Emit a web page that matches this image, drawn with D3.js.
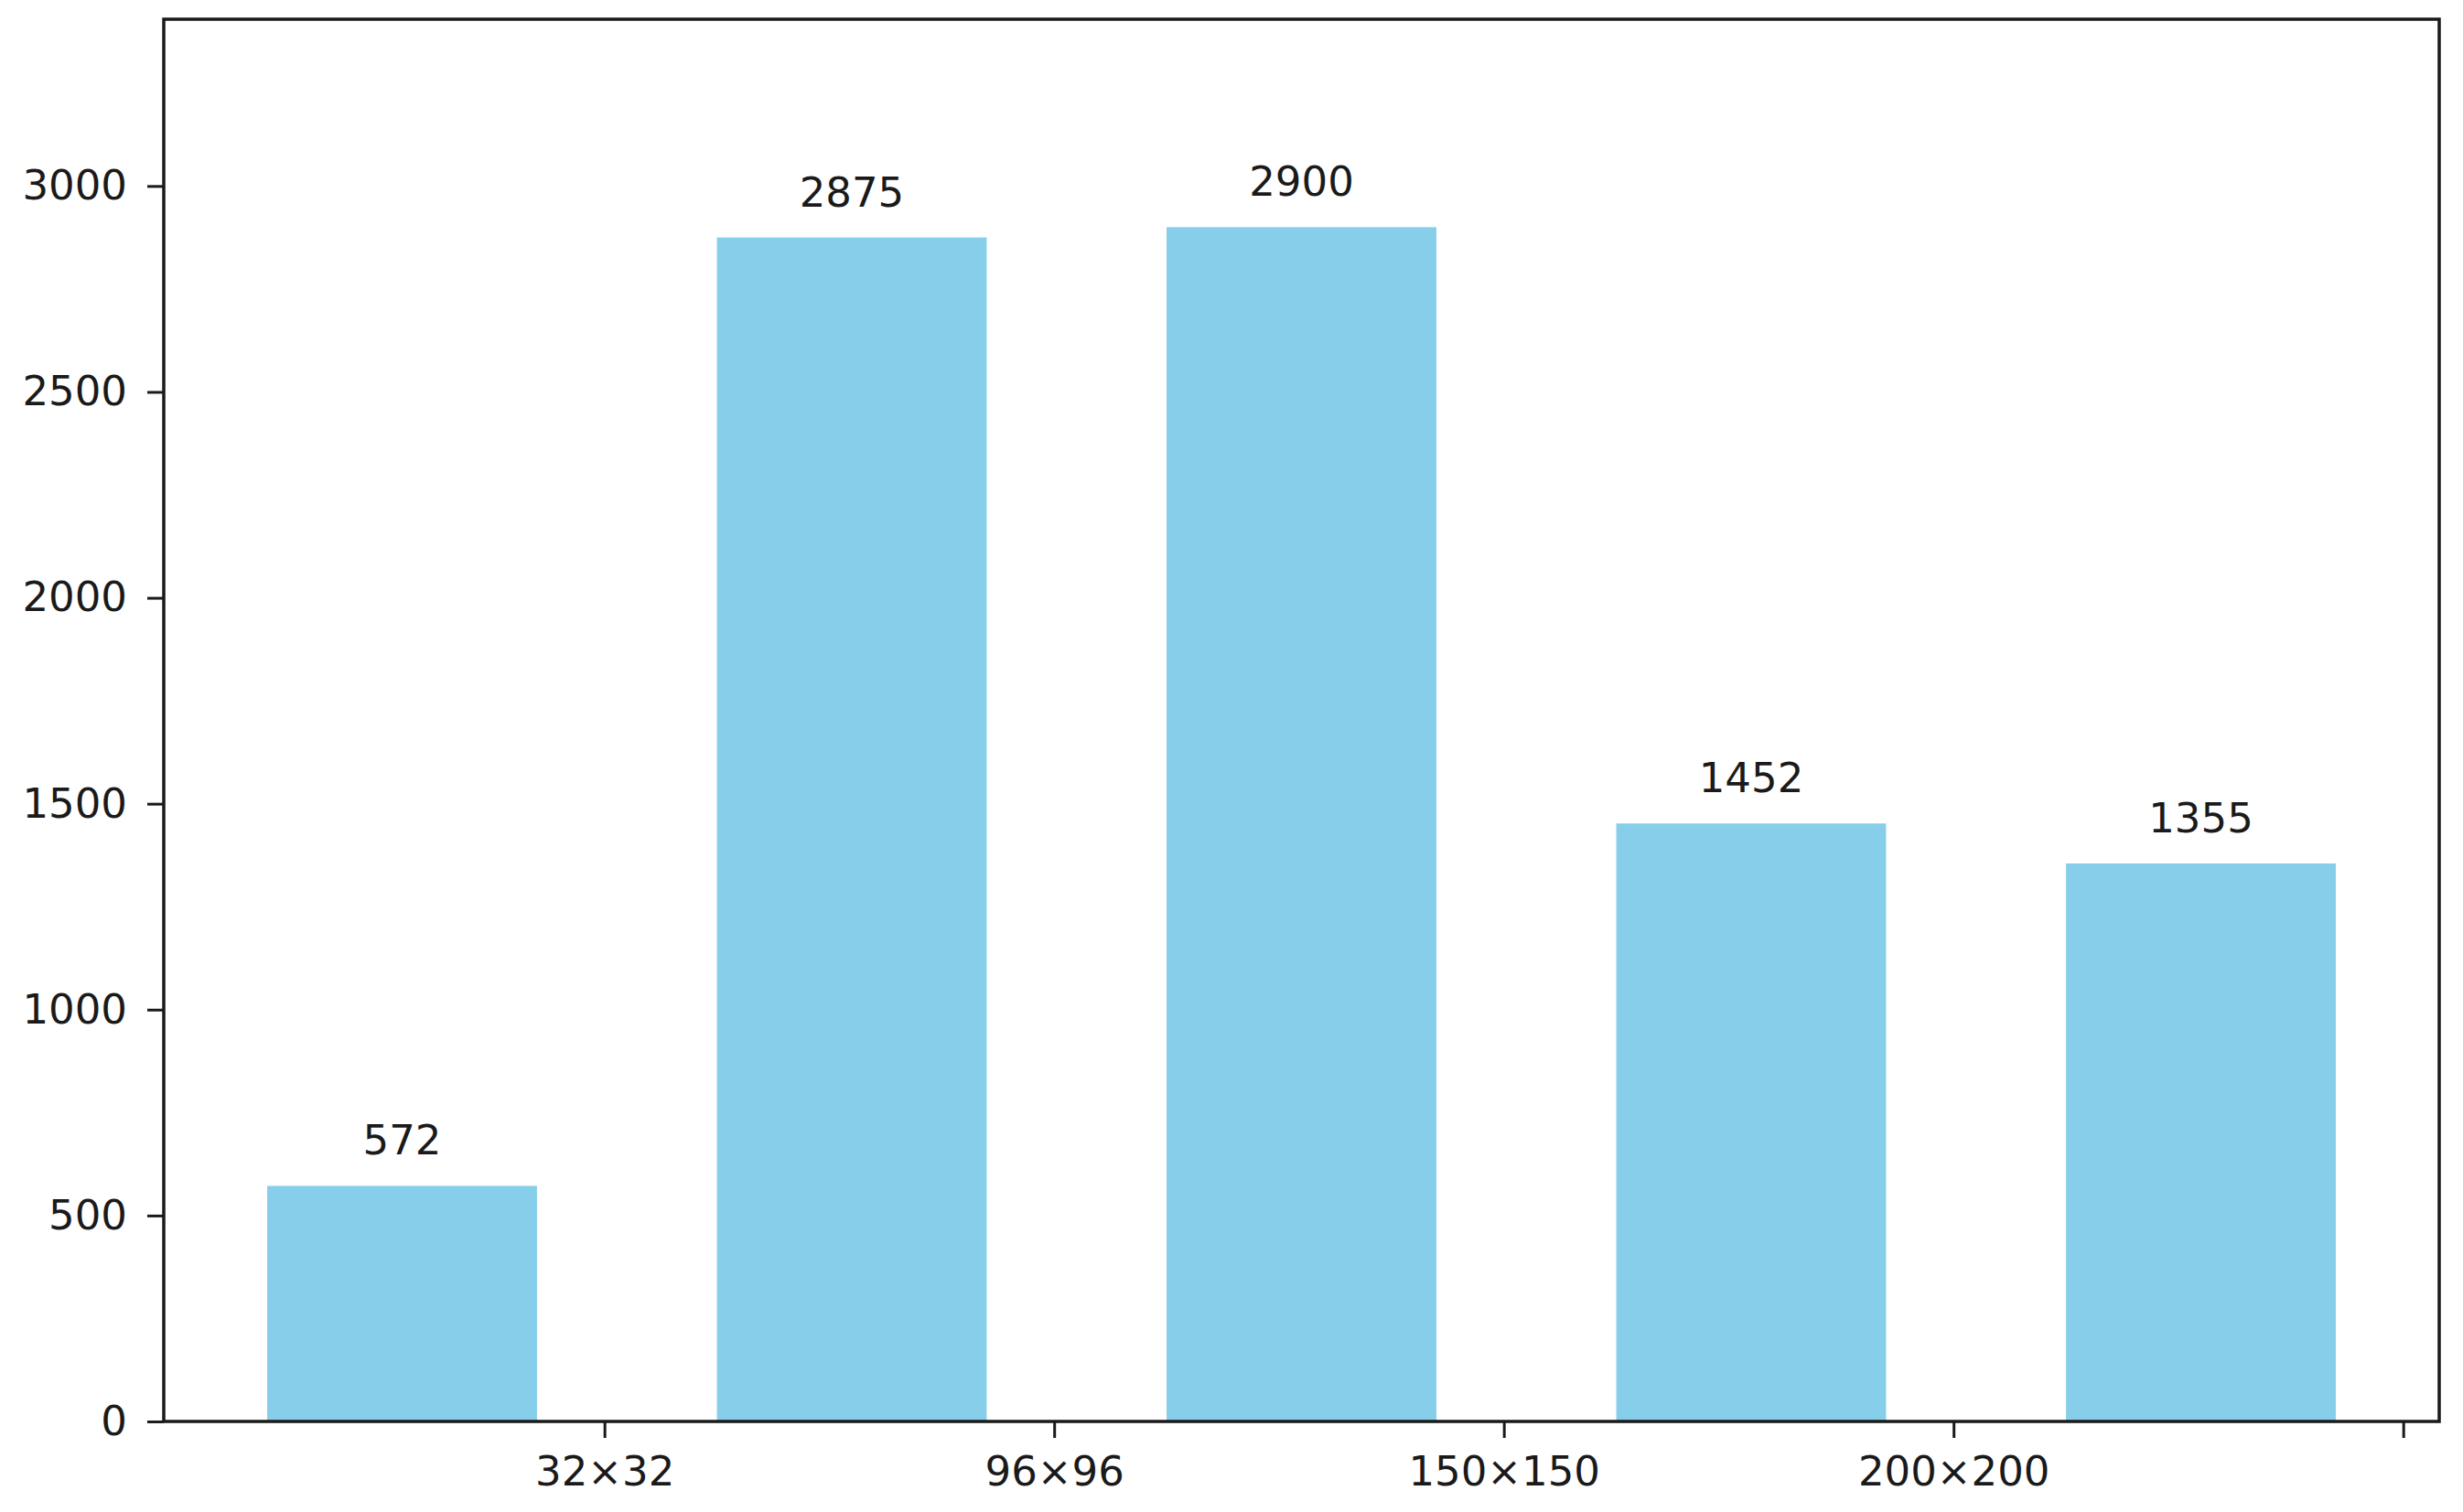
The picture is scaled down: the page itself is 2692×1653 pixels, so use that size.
<!DOCTYPE html>
<html>
<head>
	<script src="https://cdn.jsdelivr.net/npm/d3@7"></script>
	<style>
		html, body { margin: 0; padding: 0; background: white; }
		text { font-family: "DejaVu Sans", sans-serif; fill: #1a1a1a; }
	</style>
</head>
<body>
	<div id="chart"></div>
	<script>
		// data
		var categories = ["32×32", "96×96", "150×150", "200×200", ""];
		var counts = [572, 2875, 2900, 1452, 1355];
		var yTicks = [0, 500, 1000, 1500, 2000, 2500, 3000];

		var width = 2692, height = 1653;
		var margin = {top: 21, right: 26, bottom: 99, left: 179};

		var svg = d3.select("#chart").append("svg")
			.attr("width", width)
			.attr("height", height)
			.style("background-color", "white");

		var x = d3.scaleLinear()
			.domain([-0.53, 4.53])
			.range([margin.left, width - margin.right]);

		var y = d3.scaleLinear()
			.domain([0, 3405])
			.range([height - margin.bottom, margin.top]);

		var barW = x(0.6) - x(0);

		// bars
		svg.selectAll("rect.bar")
			.data(counts)
			.enter().append("rect")
			.attr("class", "bar")
			.attr("x", function(d, i) { return x(i) - barW / 2; })
			.attr("y", function(d) { return y(d); })
			.attr("width", barW)
			.attr("height", function(d) { return y(0) - y(d); })
			.style("fill", "#87ceeb");

		// value labels
		svg.selectAll("text.val")
			.data(counts)
			.enter().append("text")
			.attr("class", "val")
			.attr("x", function(d, i) { return x(i); })
			.attr("y", function(d) { return y(d) - 34; })
			.attr("text-anchor", "middle")
			.style("font-size", "45px")
			.text(function(d) { return d; });

		// x axis, ticks sit between bars
		var xAxis = d3.axisBottom(x)
			.tickValues(categories.map(function(c, i) { return i + 0.45; }))
			.tickFormat(function(d, i) { return categories[i]; })
			.tickSizeInner(18)
			.tickSizeOuter(0)
			.tickPadding(20);

		var gx = svg.append("g")
			.attr("transform", "translate(0," + y(0) + ")")
			.call(xAxis);

		var yAxis = d3.axisLeft(y)
			.tickValues(yTicks)
			.tickFormat(d3.format("d"))
			.tickSizeInner(18)
			.tickSizeOuter(0)
			.tickPadding(22);

		var gy = svg.append("g")
			.attr("transform", "translate(" + x.range()[0] + ",0)")
			.call(yAxis);

		[gx, gy].forEach(function(g) {
			g.select(".domain").remove();
			g.selectAll(".tick line").attr("stroke", "#1a1a1a").attr("stroke-width", 3);
			g.selectAll(".tick text").style("font-size", "45px").attr("fill", "#1a1a1a");
		});

		// frame around the plot
		svg.append("rect")
			.attr("x", x.range()[0])
			.attr("y", y.range()[1])
			.attr("width", x.range()[1] - x.range()[0])
			.attr("height", y.range()[0] - y.range()[1])
			.attr("fill", "none")
			.attr("stroke", "#1a1a1a")
			.attr("stroke-width", 3.5);
	</script>
</body>
</html>
